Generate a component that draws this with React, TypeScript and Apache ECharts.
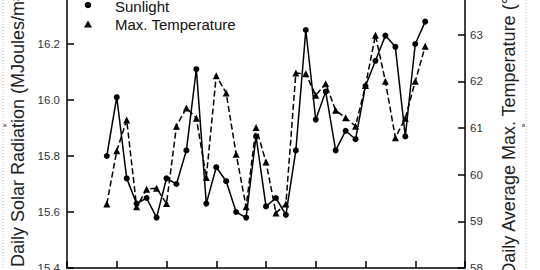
import React, { useEffect, useRef } from "react";
import * as echarts from "echarts";

const days = [4, 5, 6, 7, 8, 9, 10, 11, 12, 13, 14, 15, 16, 17, 18, 19, 20, 21, 22, 23, 24, 25, 26, 27, 28, 29, 30, 31, 32, 33, 34, 35, 36];
const sunlight = [15.80, 16.01, 15.72, 15.63, 15.65, 15.58, 15.72, 15.70, 15.82, 16.11, 15.63, 15.76, 15.71, 15.60, 15.58, 15.87, 15.62, 15.65, 15.59, 15.82, 16.25, 15.93, 16.03, 15.82, 15.89, 15.86, 16.05, 16.14, 16.23, 16.19, 15.87, 16.20, 16.28];
const maxTemp = [59.37, 60.51, 61.17, 59.31, 59.69, 59.71, 59.38, 61.04, 61.43, 61.21, 59.94, 62.12, 61.75, 60.44, 59.31, 61.01, 60.27, 59.18, 59.37, 62.18, 62.16, 61.70, 61.95, 61.38, 61.22, 61.04, 61.91, 62.99, 62.0, 60.79, 61.21, 62.0, 62.75];
const seriesNames = ["Sunlight", "Max. Temperature"];
const leftTitle = "Daily Solar Radiation (MJoules/m\u00B2)";
const rightTitle = "Daily Average Max. Temperature (\u00B0F)";

const FONT = "Liberation Sans, Arial, sans-serif";
const OFF = 12; // chart canvas starts 12px above the page (reference is cropped at the top)

export default function App() {
  const ref = useRef<HTMLDivElement>(null);
  useEffect(() => {
    if (!ref.current) return;
    const chart = echarts.init(ref.current, null, { renderer: "svg" });
    const axisCommon = {
      axisLine: { show: true, lineStyle: { color: "#000", width: 1.5 } },
      axisTick: { show: true, inside: true, length: 7, lineStyle: { color: "#000", width: 1.5 } },
      splitLine: { show: false },
    };
    chart.setOption({
      animation: false,
      backgroundColor: "#fff",
      grid: { left: 67, right: 75, top: 0, bottom: 2, containLabel: false, outerBoundsMode: "none" },
      xAxis: {
        type: "value",
        min: 0,
        max: 40,
        interval: 5,
        ...axisCommon,
        axisLabel: { show: false },
      },
      yAxis: [
        {
          type: "value",
          position: "left",
          min: 15.4,
          max: 16.4,
          interval: 0.2,
          ...axisCommon,
          axisLabel: {
            color: "#333",
            fontSize: 11.5,
            fontFamily: FONT,
            margin: 7,
            formatter: (v: number) => v.toFixed(1),
          },
          name: leftTitle,
          nameLocation: "middle",
          nameGap: 36,
          nameTextStyle: { color: "#222", fontSize: 18, fontFamily: FONT },
        },
        {
          type: "value",
          position: "right",
          min: 58,
          max: 64,
          interval: 1,
          ...axisCommon,
          axisLabel: {
            color: "#333",
            fontSize: 11.5,
            fontFamily: FONT,
            margin: 5,
          },
          name: rightTitle,
          nameLocation: "middle",
          nameGap: 35,
          nameRotate: 90,
          nameTextStyle: { color: "#222", fontSize: 18, fontFamily: FONT },
        },
      ],
      series: [
        {
          name: seriesNames[0],
          type: "line",
          yAxisIndex: 0,
          data: days.map((d, i) => [d, sunlight[i]]),
          symbol: "circle",
          symbolSize: 6,
          itemStyle: { color: "#000" },
          lineStyle: { color: "#000", width: 1.5 },
          z: 3,
        },
        {
          name: seriesNames[1],
          type: "line",
          yAxisIndex: 1,
          data: days.map((d, i) => [d, maxTemp[i]]),
          symbol: "triangle",
          symbolSize: 7,
          itemStyle: { color: "#000" },
          lineStyle: { color: "#000", width: 1.5, type: [6, 3] },
          z: 2,
        },
      ],
      graphic: [
        { type: "line", shape: { x1: 3, y1: 0, x2: 3, y2: 282 }, style: { stroke: "#bbb", lineWidth: 1, lineDash: [1, 2] }, silent: true },
        { type: "line", shape: { x1: 526, y1: 0, x2: 526, y2: 282 }, style: { stroke: "#bbb", lineWidth: 1, lineDash: [1, 2] }, silent: true },
        { type: "rect", shape: { x: 3.5, y: 124 + OFF, width: 3, height: 3 }, style: { fill: "#999" }, silent: true },
        { type: "rect", shape: { x: 522, y: 124 + OFF, width: 3, height: 3 }, style: { fill: "#999" }, silent: true },
        { type: "circle", shape: { cx: 88, cy: 5 + OFF, r: 3.3 }, style: { fill: "#000" }, silent: true },
        { type: "text", x: 115, y: 6 + OFF, style: { text: seriesNames[0], fill: "#111", font: `15px ${FONT}`, verticalAlign: "middle" }, silent: true },
        { type: "polygon", shape: { points: [[84, 27.5 + OFF], [92, 27.5 + OFF], [88, 20.5 + OFF]] }, style: { fill: "#000" }, silent: true },
        { type: "text", x: 115, y: 24.5 + OFF, style: { text: seriesNames[1], fill: "#111", font: `15px ${FONT}`, verticalAlign: "middle" }, silent: true },
      ],
    });
    return () => chart.dispose();
  }, []);
  return (
    <div style={{ position: "fixed", left: 0, top: 0, width: 540, height: 270, overflow: "hidden" }}>
      <div
        ref={ref}
        style={{ position: "absolute", left: 0, top: -OFF, width: 540, height: 282 }}
      />
    </div>
  );
}
